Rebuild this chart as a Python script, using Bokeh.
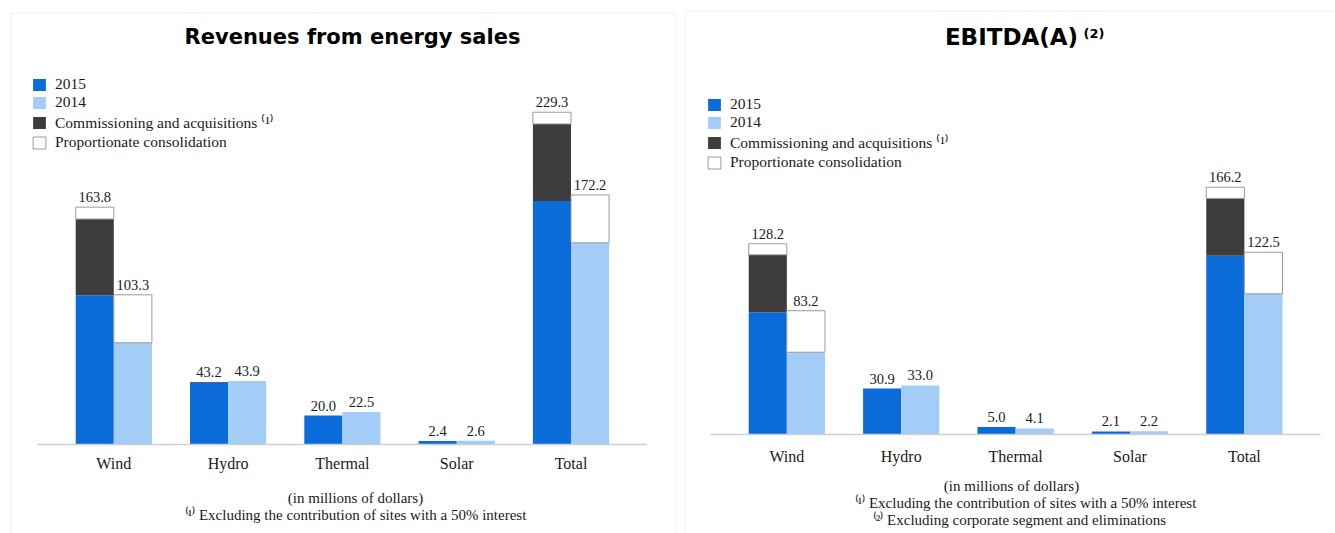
import numpy as np
from bokeh.plotting import figure
from bokeh.models import ColumnDataSource, Range1d, Label, Legend, LegendItem, BoxAnnotation
from bokeh.layouts import row
from bokeh.embed import file_html
from bokeh.resources import INLINE
from bokeh.core.properties import value

# ---------------- data ----------------
categories = ["Wind", "Hydro", "Thermal", "Solar", "Total"]

rev_2015_base = [103.0, 42.7, 20.0, 2.4, 168.1]
rev_2015_comm = [52.6, 0.5, 0.0, 0.0, 53.1]
rev_2015_prop = [8.2, 0.0, 0.0, 0.0, 8.1]
rev_2014_base = [70.2, 43.9, 22.5, 2.6, 139.2]
rev_2014_prop = [33.1, 0.0, 0.0, 0.0, 33.0]

ebitda_2015_base = [82.2, 30.9, 5.0, 2.1, 120.2]
ebitda_2015_comm = [38.6, 0.0, 0.0, 0.0, 38.5]
ebitda_2015_prop = [7.4, 0.0, 0.0, 0.0, 7.5]
ebitda_2014_base = [55.3, 33.0, 4.1, 2.2, 94.6]
ebitda_2014_prop = [27.9, 0.0, 0.0, 0.0, 27.9]

legend_labels = ["2015", "2014", "Commissioning and acquisitions \u207d\u00b9\u207e",
                 "Proportionate consolidation"]
footnote_units = "(in millions of dollars)"
footnote_1 = "\u207d\u00b9\u207e Excluding the contribution of sites with a 50% interest"
footnote_2 = "\u207d\u00b2\u207e Excluding corporate segment and eliminations"

# ---------------- style ----------------
C15 = "#0b6bd8"
C14 = "#a3cdf6"
CCOMM = "#3d3d3d"
CPROP = "#ffffff"
CPROP_LINE = "#9a9a9a"
BORDER = "#cbcbcb"
SERIF = "Liberation Serif"
SANS = "DejaVu Sans"
TXT = "#1a1a1a"
H = 533


def seg(p, x, bottom, top, color, line_color):
    mask = (top - bottom) > 0
    src = ColumnDataSource(dict(x=x[mask], bottom=bottom[mask], top=top[mask]))
    return p.vbar(x="x", width=1.0, bottom="bottom", top="top", source=src,
                  fill_color=color, line_color=line_color, line_width=1)


def panel(width, xr, yr, b15, c15, p15, b14, p14, cat_off, legend_loc, border):
    p = figure(width=width, height=H, x_range=Range1d(*xr), y_range=Range1d(*yr),
               output_backend="svg", toolbar_location=None, min_border=0,
               x_axis_type=None, y_axis_type=None)
    p.grid.visible = False
    p.outline_line_color = None
    p.background_fill_color = "white"
    p.border_fill_color = "white"

    n = len(categories)
    idx = np.arange(n)
    x15 = idx * 3 + 0.5
    x14 = idx * 3 + 1.5
    b15 = np.array(b15); c15 = np.array(c15); p15 = np.array(p15)
    b14 = np.array(b14); p14 = np.array(p14)

    z = np.zeros(n)
    r15 = seg(p, x15, z, b15, C15, None)
    rc = seg(p, x15, b15, b15 + c15, CCOMM, None)
    rp = seg(p, x15, b15 + c15, b15 + c15 + p15, CPROP, CPROP_LINE)
    r14 = seg(p, x14, z, b14, C14, None)
    seg(p, x14, b14, b14 + p14, CPROP, CPROP_LINE)

    # baseline
    p.segment(x0=[-1], y0=[0], x1=[3 * n], y1=[0], line_color="#cfcfcf", line_width=1.5)

    # value labels
    t15 = b15 + c15 + p15
    t14 = b14 + p14
    vx = np.concatenate([x15, x14])
    vy = np.concatenate([t15, t14])
    vt = ["%.1f" % v for v in vy]
    p.text(x=vx, y=vy, text=vt, text_align="center", text_baseline="bottom",
           y_offset=-5, text_font=value(SERIF), text_font_size="14.5px", text_color=TXT)

    # category labels
    p.text(x=idx * 3 + 1, y=np.zeros(n), text=categories, text_align="center",
           text_baseline="middle", y_offset=cat_off, text_font=value(SERIF),
           text_font_size="16px", text_color=TXT)

    legend = Legend(items=[LegendItem(label=legend_labels[0], renderers=[r15]),
                           LegendItem(label=legend_labels[1], renderers=[r14]),
                           LegendItem(label=legend_labels[2], renderers=[rc]),
                           LegendItem(label=legend_labels[3], renderers=[rp])],
                    location=legend_loc, orientation="vertical",
                    border_line_color=None, background_fill_alpha=0,
                    padding=0, margin=0, spacing=0,
                    glyph_width=16, glyph_height=15, label_height=15, label_standoff=8,
                    label_text_font=SERIF, label_text_font_size="15.5px",
                    label_text_color=TXT)
    p.add_layout(legend)

    box = BoxAnnotation(left=border[0], right=border[1], top=border[2], bottom=-30,
                        left_units="screen", right_units="screen",
                        top_units="screen", bottom_units="screen",
                        fill_color=None, fill_alpha=0, line_color=BORDER, line_width=1)
    p.add_layout(box)
    return p


def lab(p, x, y, text, size, font=SERIF, style="normal", align="center", color=TXT):
    p.add_layout(Label(x=x, y=y, x_units="screen", y_units="screen", text=text,
                       text_align=align, text_baseline="middle", text_font=font,
                       text_font_size=size, text_font_style=style, text_color=color))


# left panel: page x 0..676
p1 = panel(676, (-1.974, 15.769), (-61.4, 306.4),
           rev_2015_base, rev_2015_comm, rev_2015_prop, rev_2014_base, rev_2014_prop,
           19, (31, 382), (10.5, 675.5, 520.5))
lab(p1, 352, 497, "Revenues from energy sales", "21px", SANS, "bold", color="#000000")
lab(p1, 355, 36, footnote_units, "15px")
lab(p1, 355, 19, footnote_1, "15px")

# right panel: page x 684..1335
p2 = panel(651, (-1.684, 15.39), (-66.5, 291.7),
           ebitda_2015_base, ebitda_2015_comm, ebitda_2015_prop, ebitda_2014_base, ebitda_2014_prop,
           22, (22, 362), (0.5, 700, 522.5))
lab(p2, 327, 497, "EBITDA(A)", "23px", SANS, "bold", color="#000000")
lab(p2, 399, 500, "(2)", "13px", SANS, "bold", align="left", color="#000000")
lab(p2, 327, 48, footnote_units, "15px")
lab(p2, 341, 31, footnote_1, "15px")
lab(p2, 335, 14, footnote_2, "15px")

layout = row(p1, p2, spacing=8)
open("out.html", "w").write(file_html(layout, INLINE))
